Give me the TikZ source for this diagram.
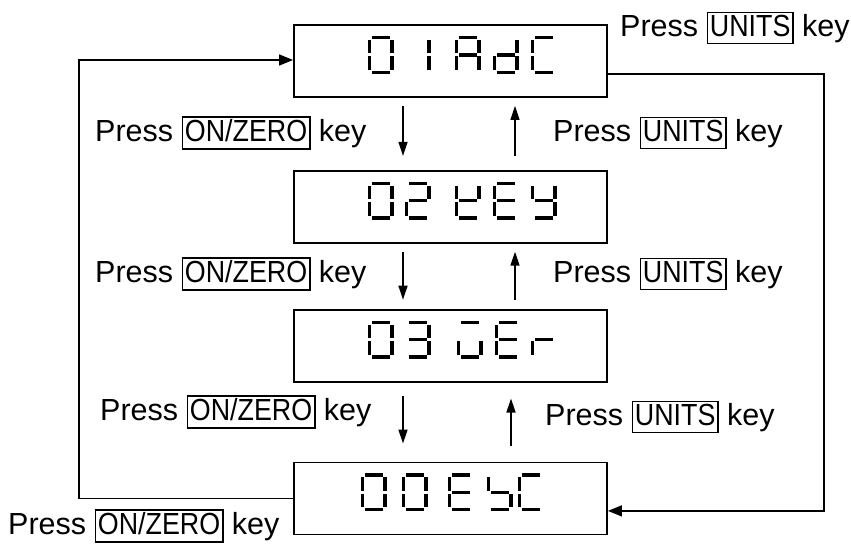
\documentclass[tikz,border=0pt]{standalone}
\usepackage{fontspec}
\usepackage{graphicx}
\setmainfont{Liberation Sans}
\usetikzlibrary{arrows.meta,positioning}

\setlength{\fboxsep}{1.5pt}
\setlength{\fboxrule}{1.8pt}
% key name in a frame, slightly condensed
\newcommand\keybox[1]{\fbox{\rule[-5pt]{0pt}{26pt}\scalebox{0.88}[1]{#1}}}

% seven segment glyph: segments a..g given as a string
\makeatletter
\newcommand\lcdseg[2]{\expandafter\in@\expandafter#1\expandafter{\lcdsegs}\ifin@\fill #2;\fi}
\makeatother
\newcommand\lcdglyph[1]{%
  \edef\lcdsegs{#1}%
  \lcdseg a{(4,0) rectangle (22,3.3)}%
  \lcdseg b{(22.7,4) rectangle (26,17.5)}%
  \lcdseg c{(22.7,20.5) rectangle (26,34)}%
  \lcdseg d{(4,34.7) rectangle (22,38)}%
  \lcdseg e{(0,20.5) rectangle (3.3,34)}%
  \lcdseg f{(0,4) rectangle (3.3,17.5)}%
  \lcdseg g{(4,17.4) rectangle (22,20.6)}%
}

\begin{document}
\begin{tikzpicture}[
    x=1pt, y=-1pt,
    font=\fontsize{30.5}{36}\selectfont,
    % display window
    display/.style={
        draw=black,
        line width=1.8pt,
        minimum width=313pt,
        minimum height=72pt
    },
    % text beside the arrows
    lbl/.style={
        anchor=west,
        inner sep=0pt
    },
    % short arrows between the windows
    stepper/.style={
        -{Triangle[length=14pt, width=9pt]},
        line width=1.4pt
    },
    % long return lines
    loopline/.style={
        -{Triangle[length=14pt, width=11pt]},
        line width=1.4pt
    },
    pics/lcd/.style={code={\lcdglyph{#1}}}
]
    \useasboundingbox (0,0) rectangle (851,545);

    % --- windows ---
    \node[display] (adc) at (450.5,61) {};
    \node[display, below=72pt of adc] (keyt) {};
    \node[display, below=65pt of keyt] (ver) {};
    \node[display, below=79pt of ver] (esc) {};

    % --- digits in the windows ---
    \foreach \dx/\segs in {-83/abcdef, -46/bc, 4/abcefg, 42/bcdeg, 80/adef}
        \pic at ([xshift=\dx pt, yshift=25pt]adc.center) {lcd=\segs};
    \foreach \dx/\segs in {-83/abcdef, -46/abdeg, 4/bdefg, 42/adefg, 80/bcdfg}
        \pic at ([xshift=\dx pt, yshift=25pt]keyt.center) {lcd=\segs};
    \foreach \dx/\segs in {-83/abcdef, -46/abcdg, 6/acde, 44/adefg, 80/eg}
        \pic at ([xshift=\dx pt, yshift=25pt]ver.center) {lcd=\segs};
    \foreach \dx/\segs in {-90/abcdef, -49/abcdef, -3/adefg, 36/cdfg, 67/adef}
        \pic at ([xshift=\dx pt, yshift=25pt]esc.center) {lcd=\segs};

    % --- arrows between windows ---
    \draw[stepper, shorten <=8pt, shorten >=14pt] ([xshift=-47.5pt]adc.south) -- ([xshift=-47.5pt]keyt.north);
    \draw[stepper, shorten <=14pt, shorten >=8pt] ([xshift=64.5pt]keyt.north) -- ([xshift=64.5pt]adc.south);
    \draw[stepper, shorten <=8pt, shorten >=9pt] ([xshift=-47.5pt]keyt.south) -- ([xshift=-47.5pt]ver.north);
    \draw[stepper, shorten <=9pt, shorten >=8pt] ([xshift=64.5pt]ver.north) -- ([xshift=64.5pt]keyt.south);
    \draw[stepper, shorten <=13pt, shorten >=18pt] ([xshift=-47.5pt]ver.south) -- ([xshift=-47.5pt]esc.north);
    \draw[stepper, shorten <=16pt, shorten >=16pt] ([xshift=60.5pt]esc.north) -- ([xshift=60.5pt]ver.south);

    % --- return lines ---
    \draw[loopline] (esc.west) -- ++(-214,0) |- ([yshift=1pt]adc.west);
    \draw[loopline] ([yshift=-13pt]adc.east) -- ++(216,0) |- ([yshift=-12.5pt]esc.east);

    % --- labels ---
    \node[lbl] (topunits) at (620,28) {Press \keybox{UNITS} key};
    \node[lbl] (onzero1) at (95,133) {Press \keybox{ON/ZERO} key};
    \node[lbl] (units1) at (553,133) {Press \keybox{UNITS} key};
    \node[lbl] (onzero2) at (95,274) {Press \keybox{ON/ZERO} key};
    \node[lbl] (units2) at (553,274) {Press \keybox{UNITS} key};
    \node[lbl] (onzero3) at (100,412) {Press \keybox{ON/ZERO} key};
    \node[lbl] (units3) at (545,417) {Press \keybox{UNITS} key};
    \node[lbl] (onzero4) at (8,526) {Press \keybox{ON/ZERO} key};
\end{tikzpicture}
\end{document}
